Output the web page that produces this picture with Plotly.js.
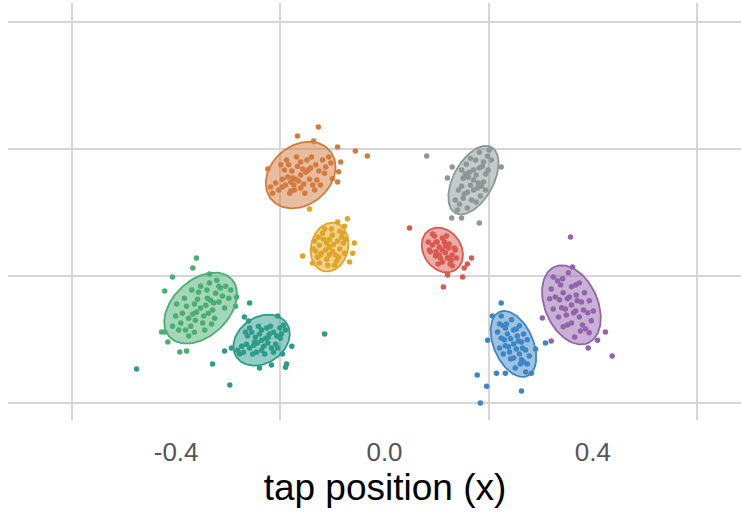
<!DOCTYPE html>
<html>
<head>
<meta charset="utf-8">
<script src="https://cdn.plot.ly/plotly-3.0.1.min.js"></script>
<style>html,body{margin:0;padding:0;background:#fff;overflow:hidden;width:741px;height:512px;}#chart{width:762px;height:512px;}</style>
</head>
<body>
<div id="chart"></div>
<script>
// ---- data: tap positions (x, y) for eight clusters ----
const groups = ['green','teal','orange','yellow','red','gray','blue','purple'];

const greenX = [-0.353,-0.343,-0.361,-0.334,-0.368,-0.324,-0.376,-0.347,-0.359,-0.338,-0.365,-0.330,-0.380,-0.315,-0.391,-0.318,-0.372,-0.341,-0.305,-0.395,-0.349,-0.357,-0.326,-0.384,-0.311,-0.388,-0.336,-0.365,-0.299,-0.401,-0.322,-0.376,-0.353,-0.345,-0.307,-0.399,-0.332,-0.370,-0.295,-0.407,-0.318,-0.363,-0.340,-0.382,-0.328,-0.361,-0.368,-0.407,-0.422,-0.284,-0.286,-0.428,-0.422,-0.416,-0.393,-0.380,-0.336];
const greenY = [-0.301,-0.292,-0.314,-0.276,-0.320,-0.254,-0.333,-0.326,-0.273,-0.317,-0.288,-0.307,-0.295,-0.238,-0.348,-0.282,-0.358,-0.244,-0.232,-0.370,-0.348,-0.251,-0.333,-0.270,-0.263,-0.317,-0.222,-0.377,-0.270,-0.326,-0.213,-0.389,-0.232,-0.370,-0.301,-0.288,-0.351,-0.244,-0.244,-0.358,-0.232,-0.339,-0.270,-0.370,-0.285,-0.143,-0.175,-0.203,-0.247,-0.266,-0.295,-0.376,-0.376,-0.408,-0.439,-0.436,-0.194];

const tealX = [-0.236,-0.228,-0.244,-0.221,-0.251,-0.213,-0.259,-0.232,-0.240,-0.224,-0.248,-0.207,-0.265,-0.201,-0.271,-0.217,-0.255,-0.198,-0.274,-0.226,-0.246,-0.194,-0.278,-0.209,-0.263,-0.230,-0.242,-0.219,-0.253,-0.205,-0.267,-0.190,-0.282,-0.236,-0.236,-0.213,-0.259,-0.223,-0.249,-0.200,-0.259,-0.269,-0.261,-0.307,-0.294,-0.330,-0.297,-0.240,-0.217,-0.196,-0.178,-0.188,-0.190,-0.115,-0.476,-0.205];
const tealY = [-0.402,-0.396,-0.411,-0.383,-0.418,-0.377,-0.427,-0.421,-0.383,-0.411,-0.393,-0.389,-0.415,-0.364,-0.440,-0.427,-0.377,-0.383,-0.421,-0.364,-0.440,-0.355,-0.446,-0.415,-0.389,-0.446,-0.358,-0.358,-0.446,-0.427,-0.377,-0.370,-0.434,-0.434,-0.370,-0.440,-0.364,-0.393,-0.408,-0.396,-0.285,-0.329,-0.342,-0.436,-0.427,-0.477,-0.543,-0.490,-0.480,-0.446,-0.421,-0.477,-0.487,-0.383,-0.493,-0.326];

const orangeX = [-0.161,-0.151,-0.171,-0.142,-0.180,-0.132,-0.190,-0.155,-0.167,-0.144,-0.178,-0.126,-0.196,-0.119,-0.203,-0.138,-0.184,-0.113,-0.209,-0.149,-0.173,-0.107,-0.215,-0.130,-0.192,-0.153,-0.169,-0.140,-0.182,-0.123,-0.199,-0.103,-0.219,-0.161,-0.161,-0.134,-0.188,-0.146,-0.176,-0.115,-0.174,-0.186,-0.196,-0.180,-0.165,-0.157,-0.127,-0.167,-0.090,-0.056,-0.033,-0.084,-0.088,-0.090,-0.100,-0.224,-0.136];
const orangeY = [0.118,0.127,0.105,0.140,0.096,0.150,0.087,0.090,0.146,0.105,0.131,0.131,0.105,0.165,0.071,0.087,0.150,0.143,0.093,0.165,0.071,0.175,0.061,0.102,0.134,0.061,0.175,0.175,0.061,0.087,0.150,0.156,0.080,0.077,0.159,0.071,0.165,0.134,0.109,0.124,0.087,0.112,0.080,0.068,0.099,0.137,0.269,0.241,0.206,0.194,0.178,0.159,0.128,0.096,0.106,0.137,0.225];

const yellowX = [-0.106,-0.098,-0.113,-0.090,-0.121,-0.100,-0.111,-0.086,-0.125,-0.094,-0.117,-0.082,-0.129,-0.102,-0.109,-0.079,-0.132,-0.092,-0.119,-0.086,-0.125,-0.077,-0.134,-0.106,-0.106,-0.096,-0.115,-0.081,-0.127,-0.088,-0.123,-0.100,-0.111,-0.075,-0.136,-0.071,-0.090,-0.077,-0.058,-0.061,-0.067,-0.157,-0.138,-0.144];
const yellowY = [-0.109,-0.100,-0.118,-0.090,-0.128,-0.071,-0.147,-0.115,-0.103,-0.134,-0.084,-0.078,-0.141,-0.052,-0.166,-0.096,-0.122,-0.153,-0.065,-0.059,-0.159,-0.128,-0.090,-0.134,-0.084,-0.166,-0.052,-0.065,-0.078,-0.141,-0.134,-0.122,-0.096,-0.084,-0.115,-0.020,-0.030,-0.043,-0.096,-0.128,-0.156,-0.137,-0.159,0.011];

const redX = [0.111,0.117,0.105,0.123,0.099,0.121,0.101,0.130,0.092,0.115,0.107,0.126,0.096,0.134,0.088,0.111,0.111,0.124,0.098,0.138,0.084,0.119,0.103,0.130,0.092,0.136,0.086,0.123,0.099,0.117,0.105,0.128,0.048,0.167,0.159,0.153,0.150,0.113,0.121];
const redY = [-0.118,-0.127,-0.109,-0.112,-0.124,-0.143,-0.093,-0.134,-0.102,-0.093,-0.143,-0.162,-0.074,-0.112,-0.124,-0.156,-0.080,-0.099,-0.137,-0.143,-0.093,-0.074,-0.162,-0.168,-0.068,-0.118,-0.118,-0.143,-0.093,-0.105,-0.134,-0.150,-0.049,-0.143,-0.162,-0.175,-0.203,-0.235,-0.197];

const grayX = [0.171,0.176,0.165,0.182,0.159,0.190,0.151,0.180,0.161,0.194,0.148,0.175,0.167,0.186,0.155,0.198,0.144,0.199,0.142,0.171,0.171,0.190,0.151,0.182,0.159,0.205,0.136,0.163,0.178,0.188,0.153,0.194,0.148,0.201,0.140,0.184,0.157,0.176,0.165,0.081,0.130,0.121,0.129,0.148,0.182,0.224];
const grayY = [0.102,0.118,0.086,0.140,0.064,0.159,0.045,0.093,0.111,0.121,0.083,0.165,0.039,0.083,0.121,0.178,0.026,0.134,0.071,0.134,0.071,0.096,0.108,0.190,0.014,0.165,0.039,0.127,0.077,0.146,0.058,0.071,0.134,0.197,0.008,0.052,0.152,0.033,0.171,0.178,0.143,0.109,-0.017,-0.017,-0.033,0.143];

const blueX = [0.248,0.253,0.242,0.259,0.236,0.263,0.232,0.267,0.228,0.255,0.240,0.271,0.224,0.251,0.244,0.274,0.221,0.261,0.234,0.267,0.228,0.278,0.217,0.248,0.248,0.271,0.224,0.257,0.238,0.263,0.232,0.274,0.221,0.253,0.242,0.265,0.230,0.259,0.224,0.207,0.198,0.290,0.309,0.178,0.215,0.232,0.282,0.196,0.263,0.184];
const blueY = [-0.414,-0.430,-0.398,-0.446,-0.383,-0.408,-0.420,-0.471,-0.357,-0.389,-0.439,-0.433,-0.395,-0.490,-0.338,-0.401,-0.427,-0.477,-0.351,-0.383,-0.446,-0.452,-0.376,-0.458,-0.370,-0.502,-0.326,-0.405,-0.423,-0.464,-0.364,-0.477,-0.351,-0.367,-0.461,-0.427,-0.401,-0.357,-0.285,-0.326,-0.402,-0.430,-0.411,-0.512,-0.506,-0.506,-0.506,-0.547,-0.562,-0.600];

const purpleX = [0.359,0.367,0.351,0.374,0.343,0.378,0.340,0.386,0.332,0.368,0.349,0.390,0.328,0.365,0.353,0.393,0.324,0.376,0.342,0.384,0.334,0.397,0.320,0.359,0.359,0.370,0.347,0.380,0.338,0.393,0.324,0.367,0.351,0.382,0.336,0.374,0.343,0.401,0.317,0.363,0.355,0.357,0.303,0.320,0.424,0.409,0.391,0.437,0.361];
const purpleY = [-0.291,-0.310,-0.272,-0.329,-0.253,-0.282,-0.300,-0.367,-0.215,-0.260,-0.323,-0.316,-0.266,-0.392,-0.190,-0.278,-0.304,-0.373,-0.209,-0.253,-0.329,-0.341,-0.241,-0.348,-0.234,-0.278,-0.304,-0.354,-0.228,-0.379,-0.203,-0.228,-0.354,-0.307,-0.275,-0.222,-0.360,-0.310,-0.272,-0.316,-0.266,-0.077,-0.332,-0.405,-0.376,-0.402,-0.427,-0.452,-0.172];

// confidence-ellipse parameters per group: centre and two semi-axis vectors (data units)
const ellCx = [-0.353,-0.236,-0.161,-0.1055,0.111,0.1707,0.2475,0.3588];
const ellCy = [-0.301,-0.402,0.118,-0.109,-0.118,0.102,-0.414,-0.291];
const ellAx = [0.0595,0.048,0.0595,0.0115,0.0249,0.0345,0.0269,0.0326];
const ellAy = [0.0913,0.0535,0.0693,0.0756,-0.063,0.1039,-0.1008,-0.1197];
const ellBx = [0.0366,0.0249,0.0307,0.0345,0.0307,0.0336,0.0345,0.046];
const ellBy = [-0.0646,-0.0598,-0.0787,-0.0142,0.0315,-0.0302,0.0252,0.0346];

const xTicks = [-0.4, 0, 0.4];
const xTickText = ['-0.4', '0.0', '0.4'];

// ---- styles ----
const colors = ['#4aad72','#2b9c8a','#d27b3f','#e0a526','#d85a50','#8b9896','#3d86c6','#9363ab'];
function rgba(hex, a){
  const n = parseInt(hex.slice(1),16);
  return `rgba(${(n>>16)&255},${(n>>8)&255},${n&255},${a})`;
}
const pts = {
  green:[greenX,greenY], teal:[tealX,tealY], orange:[orangeX,orangeY], yellow:[yellowX,yellowY],
  red:[redX,redY], gray:[grayX,grayY], blue:[blueX,blueY], purple:[purpleX,purpleY]
};

const traces = [];
groups.forEach((g,i)=>{
  const ex=[], ey=[];
  for(let k=0;k<=120;k++){
    const t = 2*Math.PI*k/120;
    ex.push(ellCx[i] + Math.cos(t)*ellAx[i] + Math.sin(t)*ellBx[i]);
    ey.push(ellCy[i] + Math.cos(t)*ellAy[i] + Math.sin(t)*ellBy[i]);
  }
  traces.push({x:ex, y:ey, type:'scatter', mode:'lines', fill:'toself',
    fillcolor: rgba(colors[i],0.5), line:{color:colors[i], width:1.8},
    hoverinfo:'skip', showlegend:false});
});
groups.forEach((g,i)=>{
  traces.push({x:pts[g][0], y:pts[g][1], type:'scatter', mode:'markers', name:g,
    marker:{color:colors[i], size:5.5}, showlegend:false});
});

const gridc = '#d6d6d6';
const layout = {
  width:762, height:512,
  margin:{l:8, r:0, t:3, b:92, autoexpand:false},
  paper_bgcolor:'#ffffff', plot_bgcolor:'#ffffff',
  showlegend:false,
  font:{family:'"Liberation Sans", Arial, sans-serif'},
  xaxis:{
    range:[-0.7228, 0.7247], autorange:false,
    tickmode:'array', tickvals:xTicks, ticktext:xTickText,
    showgrid:false, zeroline:false, showline:false, ticks:'',
    ticklabelstandoff:14,
    tickfont:{size:26, color:'#555555'},
    minor:{tickmode:'array', tickvals:[-0.6,-0.2,0.2,0.6], showgrid:true, gridcolor:gridc, gridwidth:1.8, ticks:''},
    title:{text:'tap position (x)', font:{size:37, color:'#000000'}, standoff:4},
    automargin:false
  },
  yaxis:{
    range:[-0.6535, 0.6598], autorange:false,
    tickmode:'array', tickvals:[-0.6,-0.2,0.2,0.6],
    showticklabels:false, ticks:'',
    showgrid:true, gridcolor:gridc, gridwidth:1.8,
    zeroline:false, showline:false, automargin:false
  }
};

Plotly.newPlot('chart', traces, layout, {displayModeBar:false, staticPlot:true});
</script>
</body>
</html>
